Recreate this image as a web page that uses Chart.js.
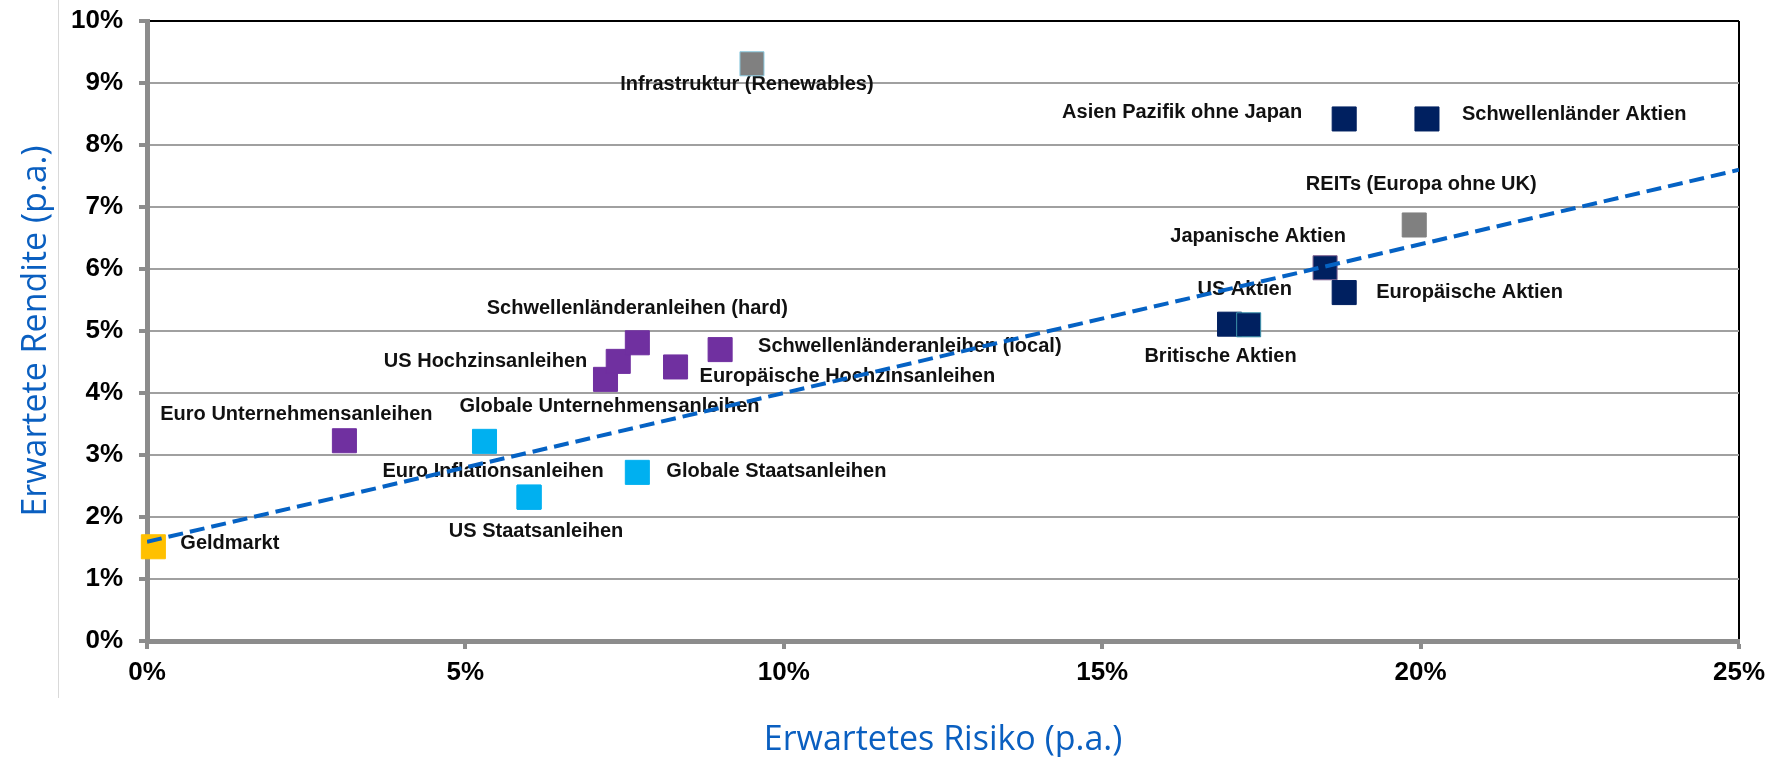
<!DOCTYPE html>
<html lang="de">
<head>
    <meta charset="UTF-8">
    <title>Erwartete Rendite vs. Risiko</title>
    <script src="https://cdn.jsdelivr.net/npm/chart.js"></script>
    <style>
        body { margin: 0; background: #fff; }
        .wrap { position: relative; width: 1791px; height: 757px; }
        .edge { position: absolute; left: 58px; top: 0; width: 1px; height: 698px; background: #d9d9d9; }
        canvas { position: absolute; left: 0; top: 0; }
    </style>
</head>
<body>
<div class="wrap">
    <div class="edge"></div>
    <canvas id="myChart" width="1791" height="757"></canvas>
</div>
<script>
// asset classes
const names = ['Geldmarkt', 'Euro Unternehmensanleihen', 'Globale Unternehmensanleihen', 'Euro Inflationsanleihen',
    'US Staatsanleihen', 'Globale Staatsanleihen', '', 'US Hochzinsanleihen', 'Schwellenländeranleihen (hard)',
    'Europäische Hochzinsanleihen', 'Schwellenländeranleihen (local)', 'Infrastruktur (Renewables)',
    'Britische Aktien', 'US Aktien', 'Japanische Aktien', 'Europäische Aktien', 'Asien Pazifik ohne Japan',
    'Schwellenländer Aktien', 'REITs (Europa ohne UK)'];
const groups = ['Geldmarkt', 'Kredit', 'Anleihen', 'Anleihen', 'Anleihen', 'Anleihen', 'Kredit', 'Kredit', 'Kredit',
    'Kredit', 'Kredit', 'Alternativ', 'Aktien', 'Aktien', 'Aktien', 'Aktien', 'Aktien', 'Aktien', 'Alternativ'];
// expected risk (x) and expected return (y), % p.a.
const risk = [0.1, 3.1, 5.3, 6.0, 6.0, 7.7, 7.2, 7.4, 7.7, 8.3, 9.0, 9.5, 17.0, 17.3, 18.5, 18.8, 18.8, 20.1, 19.9];
const ret = [1.52, 3.23, 3.22, 2.32, 2.32, 2.72, 4.22, 4.51, 4.81, 4.42, 4.7, 9.31, 5.11, 5.1, 6.02, 5.62, 8.42, 8.42, 6.71];
// trend line
const trendX = [0, 25];
const trendY = [1.6, 7.6];

const groupColor = { Geldmarkt: '#ffc000', Kredit: '#7030a0', Anleihen: '#00b0f0', Aktien: '#002060', Alternativ: '#808080' };
const edgeColor = { 'Infrastruktur (Renewables)': '#8ccbe0', 'US Aktien': '#3d93ab', 'Japanische Aktien': '#7d5f8f' };

// label placement relative to the marker: [dx, dy, align]
const labelPos = {
    'Geldmarkt': [27, -3, 'left'],
    'Euro Unternehmensanleihen': [-48, -26, 'center'],
    'Globale Unternehmensanleihen': [125, -35, 'center'],
    'Euro Inflationsanleihen': [-36, -26, 'center'],
    'US Staatsanleihen': [7, 34, 'center'],
    'Globale Staatsanleihen': [29, -1, 'left'],
    'US Hochzinsanleihen': [-31, 0, 'right'],
    'Schwellenländeranleihen (hard)': [0, -34, 'center'],
    'Europäische Hochzinsanleihen': [24, 10, 'left'],
    'Schwellenländeranleihen (local)': [38, -3, 'left'],
    'Infrastruktur (Renewables)': [-5, 21, 'center'],
    'Britische Aktien': [-9, 32, 'center'],
    'US Aktien': [-4, -35, 'center'],
    'Japanische Aktien': [-67, -31, 'center'],
    'Europäische Aktien': [32, 0, 'left'],
    'Asien Pazifik ohne Japan': [-42, -6, 'right'],
    'Schwellenländer Aktien': [35, -4, 'left'],
    'REITs (Europa ohne UK)': [7, -40, 'center']
};

const pointLabels = {
    id: 'pointLabels',
    beforeDatasetsDraw(chart) {
        const ctx = chart.ctx;
        const meta = chart.getDatasetMeta(1);
        ctx.save();
        ctx.font = 'bold 20px "Liberation Sans", Arial, sans-serif';
        ctx.fillStyle = '#111';
        ctx.textBaseline = 'middle';
        meta.data.forEach((pt, i) => {
            const p = labelPos[names[i]];
            if (!names[i] || !p) return;
            ctx.textAlign = p[2];
            ctx.fillText(names[i], pt.x + p[0], pt.y + p[1]);
        });
        ctx.restore();
    }
};

const blue = '#0a5fc0';
const tickFont = { family: '"Liberation Sans", Arial, sans-serif', size: 26, weight: 'bold' };
const titleFont = { family: '"Open Sans", sans-serif', size: 34, lineHeight: 1 };

new Chart(document.getElementById('myChart'), {
    type: 'scatter',
    data: {
        datasets: [{
            type: 'line',
            data: trendX.map((x, i) => ({ x: x, y: trendY[i] })),
            borderColor: '#0562c4',
            borderWidth: 4,
            borderDash: [15, 7],
            pointRadius: 0,
            fill: false,
            order: 0
        }, {
            data: risk.map((x, i) => ({ x: x, y: ret[i] })),
            pointStyle: 'rect',
            pointRadius: 17,
            pointHoverRadius: 17,
            backgroundColor: names.map((n, i) => groupColor[groups[i]]),
            borderColor: names.map((n, i) => edgeColor[n] || groupColor[groups[i]]),
            borderWidth: 1,
            clip: false,
            order: 1
        }]
    },
    options: {
        responsive: false,
        animation: false,
        layout: { padding: { top: 21, right: 52, left: 0, bottom: 0 } },
        plugins: { legend: { display: false }, tooltip: { enabled: false } },
        scales: {
            x: {
                min: 0, max: 25,
                afterFit: s => { s.height = 116; },
                ticks: { stepSize: 5, callback: v => v + '%', color: '#000', font: tickFont, padding: 8, maxRotation: 0 },
                grid: {
                    color: c => c.tick && c.tick.value === 25 ? '#000' : 'rgba(0,0,0,0)',
                    lineWidth: 2,
                    tickColor: '#8c8c8c', tickWidth: 4, tickLength: 8
                },
                border: { color: '#8c8c8c', width: 5 },
                title: { display: true, text: 'Erwartetes Risiko (p.a.)', color: blue, font: titleFont, padding: { top: 0, bottom: 0 } }
            },
            y: {
                min: 0, max: 10,
                afterFit: s => { s.width = 147; s.paddingTop = 0; s.paddingBottom = 0; },
                ticks: { stepSize: 1, callback: v => v + '%', color: '#000', font: tickFont, padding: 16 },
                grid: {
                    color: c => c.tick && c.tick.value === 10 ? '#000' : '#a0a0a0',
                    lineWidth: 2,
                    tickColor: '#8c8c8c', tickWidth: 4, tickLength: 8
                },
                border: { color: '#8c8c8c', width: 5 },
                title: { display: true, text: 'Erwartete Rendite (p.a.)', color: blue, font: titleFont, padding: { top: 19, bottom: 0 } }
            }
        }
    },
    plugins: [pointLabels]
});
</script>
</body>
</html>
